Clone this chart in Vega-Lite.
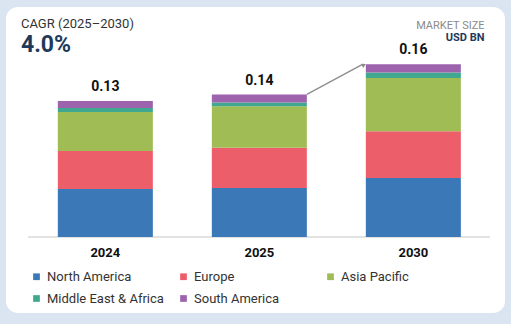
{
  "$schema": "https://vega.github.io/schema/vega-lite/v6.json",
  "autosize": {"type": "none"},
  "width": 499,
  "height": 306,
  "padding": {"left": 6, "top": 7, "right": 6, "bottom": 11},
  "background": "#dbe5f1",
  "view": {"fill": "white", "cornerRadius": 12, "stroke": null},
  "config": {"font": "Roboto"},
  "title": {
    "text": "CAGR (2025–2030)",
    "subtitle": "4.0%",
    "anchor": "start",
    "frame": "group",
    "orient": "top",
    "dx": 15,
    "dy": 54,
    "fontSize": 13,
    "fontWeight": "normal",
    "color": "#333333",
    "subtitleFontSize": 23,
    "subtitleFontWeight": "bold",
    "subtitleColor": "#1d3a5c",
    "subtitlePadding": 3
  },
  "data": {
    "values": [
      {"year": "2024", "region": "North America", "value": 0.0461, "total": 0.13},
      {"year": "2024", "region": "Europe", "value": 0.0365, "total": 0.13},
      {"year": "2024", "region": "Asia Pacific", "value": 0.0375, "total": 0.13},
      {"year": "2024", "region": "Middle East & Africa", "value": 0.0038, "total": 0.13},
      {"year": "2024", "region": "South America", "value": 0.0067, "total": 0.13},
      {"year": "2025", "region": "North America", "value": 0.0471, "total": 0.14},
      {"year": "2025", "region": "Europe", "value": 0.0387, "total": 0.14},
      {"year": "2025", "region": "Asia Pacific", "value": 0.0397, "total": 0.14},
      {"year": "2025", "region": "Middle East & Africa", "value": 0.0036, "total": 0.14},
      {"year": "2025", "region": "South America", "value": 0.0077, "total": 0.14},
      {"year": "2030", "region": "North America", "value": 0.0567, "total": 0.16},
      {"year": "2030", "region": "Europe", "value": 0.0449, "total": 0.16},
      {"year": "2030", "region": "Asia Pacific", "value": 0.0512, "total": 0.16},
      {"year": "2030", "region": "Middle East & Africa", "value": 0.0051, "total": 0.16},
      {"year": "2030", "region": "South America", "value": 0.008, "total": 0.16}
    ]
  },
  "encoding": {
    "x": {
      "field": "year",
      "type": "nominal",
      "scale": {"domain": ["2024", "2025", "2030"], "paddingInner": 0.383, "paddingOuter": 0.3116, "align": 0.54},
      "axis": {
        "orient": "bottom",
        "offset": -76,
        "domain": false,
        "ticks": false,
        "grid": false,
        "labelAngle": 0,
        "labelPadding": 9,
        "labelFontSize": 13,
        "labelFontWeight": "bold",
        "labelColor": "#111111",
        "title": "USD BN",
        "titleFontSize": 11,
        "titleFontWeight": "bold",
        "titleColor": "#1d3a5c",
        "titleAlign": "right",
        "titleBaseline": "alphabetic",
        "titleX": 478,
        "titleY": -197
      }
    }
  },
  "layer": [
    {
      "mark": {"type": "rule", "color": "#e2e2e2", "strokeWidth": 1},
      "encoding": {
        "x": {"datum": "2024", "type": "nominal", "bandPosition": -0.314},
        "x2": {"datum": "2030", "bandPosition": 1.305},
        "y": {"datum": 0, "type": "quantitative"}
      }
    },
    {
      "transform": [
        {"calculate": "indexof(['North America', 'Europe', 'Asia Pacific', 'Middle East & Africa', 'South America'], datum.region)", "as": "stackOrder"}
      ],
      "mark": {"type": "bar"},
      "encoding": {
        "y": {
          "field": "value",
          "type": "quantitative",
          "stack": "zero",
          "scale": {"domain": [-0.073, 0.2209], "nice": false, "zero": false},
          "axis": {
            "orient": "right",
            "domain": false,
            "ticks": false,
            "labels": false,
            "grid": false,
            "title": "MARKET SIZE",
            "titleAngle": 0,
            "titleFontSize": 11,
            "titleFontWeight": "normal",
            "titleColor": "#8a8a8a",
            "titleAlign": "right",
            "titleBaseline": "alphabetic",
            "titleX": -21,
            "titleY": 21
          }
        },
        "order": {"field": "stackOrder", "type": "quantitative", "sort": "ascending"},
        "color": {
          "field": "region",
          "type": "nominal",
          "scale": {
            "domain": ["North America", "Middle East & Africa", "Europe", "South America", "Asia Pacific"],
            "range": ["#3a78b8", "#3fa88f", "#ec5f6a", "#9d63ad", "#9fbc55"]
          },
          "legend": {
            "orient": "none",
            "legendX": 24,
            "legendY": 263,
            "title": null,
            "columns": 3,
            "gridAlign": "all",
            "columnPadding": 13,
            "rowPadding": 8,
            "symbolType": "square",
            "symbolSize": 45,
            "symbolStrokeWidth": 0,
            "labelFontSize": 13,
            "labelColor": "#333333",
            "labelOffset": 4,
            "padding": 0
          }
        }
      }
    },
    {
      "mark": {"type": "text", "fontSize": 14, "fontWeight": "bold", "color": "#111111", "baseline": "bottom", "dy": -7},
      "encoding": {
        "y": {"aggregate": "sum", "field": "value", "type": "quantitative"},
        "text": {"aggregate": "max", "field": "total", "type": "quantitative", "format": ".2f"}
      }
    },
    {
      "data": {"values": [{"from": "2025", "to": "2030", "start": 0.137, "end": 0.1655}]},
      "mark": {"type": "rule", "color": "#8c8c8c", "strokeWidth": 1.3},
      "encoding": {
        "x": {"field": "from", "type": "nominal", "bandPosition": 1},
        "x2": {"field": "to", "bandPosition": -0.04},
        "y": {"field": "start", "type": "quantitative"},
        "y2": {"field": "end"}
      }
    },
    {
      "data": {"values": [{"from": "2025", "to": "2030", "start": 0.137, "end": 0.1662}]},
      "mark": {"type": "point", "shape": "M0,0L-1,-0.55L-1,0.55Z", "filled": true, "color": "#8c8c8c", "size": 70, "angle": 333, "opacity": 1},
      "encoding": {
        "x": {"field": "to", "type": "nominal", "bandPosition": 0},
        "y": {"field": "end", "type": "quantitative"}
      }
    }
  ]
}
